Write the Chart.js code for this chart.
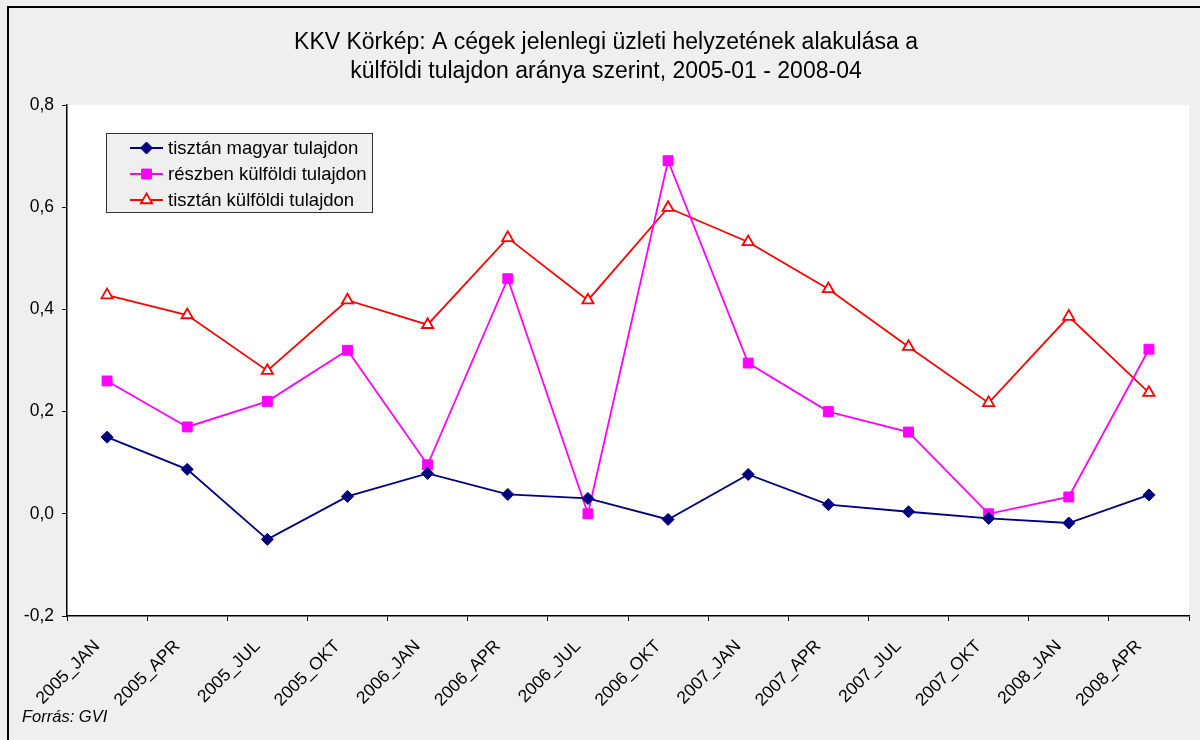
<!DOCTYPE html>
<html>
<head>
<meta charset="utf-8">
<script src="https://cdn.jsdelivr.net/npm/chart.js@4.4.1/dist/chart.umd.min.js"></script>
<style>
  html, body { margin: 0; padding: 0; background: #efefef; }
  #wrap { position: relative; width: 1200px; height: 740px; }
</style>
</head>
<body>
<div id="wrap"><canvas id="c" width="1200" height="740"></canvas></div>
<script>
const categories = ["2005_JAN","2005_APR","2005_JUL","2005_OKT","2006_JAN","2006_APR","2006_JUL","2006_OKT","2007_JAN","2007_APR","2007_JUL","2007_OKT","2008_JAN","2008_APR"];
const seriesNames = ["tisztán magyar tulajdon","részben külföldi tulajdon","tisztán külföldi tulajdon"];
const magyar   = [0.150, 0.087, -0.050, 0.034, 0.079, 0.038, 0.030, -0.011, 0.077, 0.018, 0.004, -0.009, -0.018, 0.037];
const reszben  = [0.260, 0.170, 0.220, 0.320, 0.096, 0.460, 0.000, 0.691, 0.295, 0.200, 0.160, 0.000, 0.033, 0.322];
const kulfoldi = [0.428, 0.389, 0.280, 0.418, 0.370, 0.540, 0.418, 0.599, 0.532, 0.440, 0.327, 0.217, 0.386, 0.237];
const yTicks = [-0.2, 0, 0.2, 0.4, 0.6, 0.8];
const titleLines = ["KKV Körkép: A cégek jelenlegi üzleti helyzetének alakulása a", "külföldi tulajdon aránya szerint, 2005-01 - 2008-04"];
const sourceText = "Forrás: GVI";

const FONT = "'Liberation Sans', Arial, sans-serif";

const decor = {
  id: 'decor',
  beforeDraw(chart) {
    const ctx = chart.ctx, a = chart.chartArea;
    ctx.save();
    ctx.fillStyle = '#efefef';
    ctx.fillRect(0, 0, chart.width, chart.height);
    ctx.fillStyle = '#ffffff';
    ctx.fillRect(a.left, a.top, a.right - a.left, a.bottom - a.top);
    ctx.strokeStyle = '#000';
    ctx.lineWidth = 2;
    ctx.beginPath();
    ctx.moveTo(8, 742); ctx.lineTo(8, 7); ctx.lineTo(1202, 7);
    ctx.stroke();
    ctx.restore();
  },
  afterDraw(chart) {
    const ctx = chart.ctx;
    ctx.save();
    // title
    ctx.fillStyle = '#000';
    ctx.font = "23px " + FONT;
    ctx.textAlign = 'center';
    ctx.textBaseline = 'middle';
    ctx.fillText(titleLines[0], 606, 43);
    ctx.fillText(titleLines[1], 606, 72);
    // source
    ctx.font = "italic 16.5px " + FONT;
    ctx.textAlign = 'left';
    ctx.textBaseline = 'alphabetic';
    ctx.fillText(sourceText, 22, 722);
    // legend box
    const lx = 106, ly = 133, lw = 266, lh = 79;
    ctx.fillStyle = '#efefef';
    ctx.fillRect(lx, ly, lw, lh);
    ctx.strokeStyle = '#333';
    ctx.lineWidth = 1;
    ctx.strokeRect(lx + 0.5, ly + 0.5, lw, lh);
    const rows = [148, 174, 200];
    chart.data.datasets.forEach((ds, i) => {
      const y = rows[i];
      ctx.strokeStyle = ds.borderColor;
      ctx.lineWidth = ds.borderWidth;
      ctx.beginPath();
      ctx.moveTo(130, y); ctx.lineTo(163, y);
      ctx.stroke();
      ctx.save();
      ctx.fillStyle = ds.pointBackgroundColor;
      ctx.strokeStyle = ds.pointBorderColor;
      ctx.lineWidth = ds.pointBorderWidth;
      Chart.helpers.drawPoint(ctx, {
        pointStyle: ds.pointStyle,
        radius: ds.pointRadius,
        borderWidth: ds.pointBorderWidth,
        rotation: 0
      }, 146.5, y);
      ctx.restore();
      ctx.fillStyle = '#000';
      ctx.font = "18.5px " + FONT;
      ctx.textAlign = 'left';
      ctx.textBaseline = 'middle';
      ctx.fillText(ds.label, 168, y + 1);
    });
    ctx.restore();
  }
};

const fmt = v => {
  const r = Math.round(v * 10) / 10;
  return (Math.abs(r) < 1e-9 ? 0 : r).toFixed(1).replace('.', ',');
};

new Chart(document.getElementById('c'), {
  type: 'line',
  data: {
    labels: categories,
    datasets: [
      { label: seriesNames[0], data: magyar, borderColor: '#000080', backgroundColor: '#000080',
        borderWidth: 1.8, pointStyle: 'rectRot', pointRadius: 6, pointBackgroundColor: '#000080',
        pointBorderColor: '#000080', pointBorderWidth: 1, tension: 0 },
      { label: seriesNames[1], data: reszben, borderColor: '#ff00ff', backgroundColor: '#ff00ff',
        borderWidth: 1.8, pointStyle: 'rect', pointRadius: 7, pointBackgroundColor: '#ff00ff',
        pointBorderColor: '#ff00ff', pointBorderWidth: 1, tension: 0 },
      { label: seriesNames[2], data: kulfoldi, borderColor: '#ff0000', backgroundColor: '#ffffff',
        borderWidth: 1.8, pointStyle: 'triangle', pointRadius: 6.5, pointBackgroundColor: '#ffffff',
        pointBorderColor: '#ff0000', pointBorderWidth: 1.8, tension: 0 }
    ]
  },
  options: {
    responsive: true,
    maintainAspectRatio: false,
    animation: false,
    layout: { padding: { top: 105, left: 8, right: 11, bottom: 0 } },
    plugins: {
      legend: { display: false },
      title: { display: false },
      tooltip: { enabled: false }
    },
    scales: {
      x: {
        offset: true,
        grid: { offset: true, drawOnChartArea: false, drawTicks: true, tickLength: 5, color: '#000', lineWidth: 1 },
        border: { display: true, color: '#000', width: 1.5 },
        ticks: { autoSkip: false, maxRotation: 45, minRotation: 45, padding: 15, labelOffset: -10, color: '#000',
                 font: { family: FONT, size: 17.5 } },
        afterFit(s) { s.height = 124; }
      },
      y: {
        min: -0.2, max: 0.8,
        afterBuildTicks(s) { s.ticks = yTicks.map(v => ({ value: v })); },
        grid: { drawOnChartArea: false, drawTicks: true, tickLength: 5, color: '#000', lineWidth: 1 },
        border: { display: true, color: '#000', width: 1.5 },
        ticks: { padding: 8, color: '#000', font: { family: FONT, size: 17.5 }, callback: v => fmt(v) },
        afterFit(s) { s.width = 59; }
      }
    }
  },
  plugins: [decor]
});
</script>
</body>
</html>
